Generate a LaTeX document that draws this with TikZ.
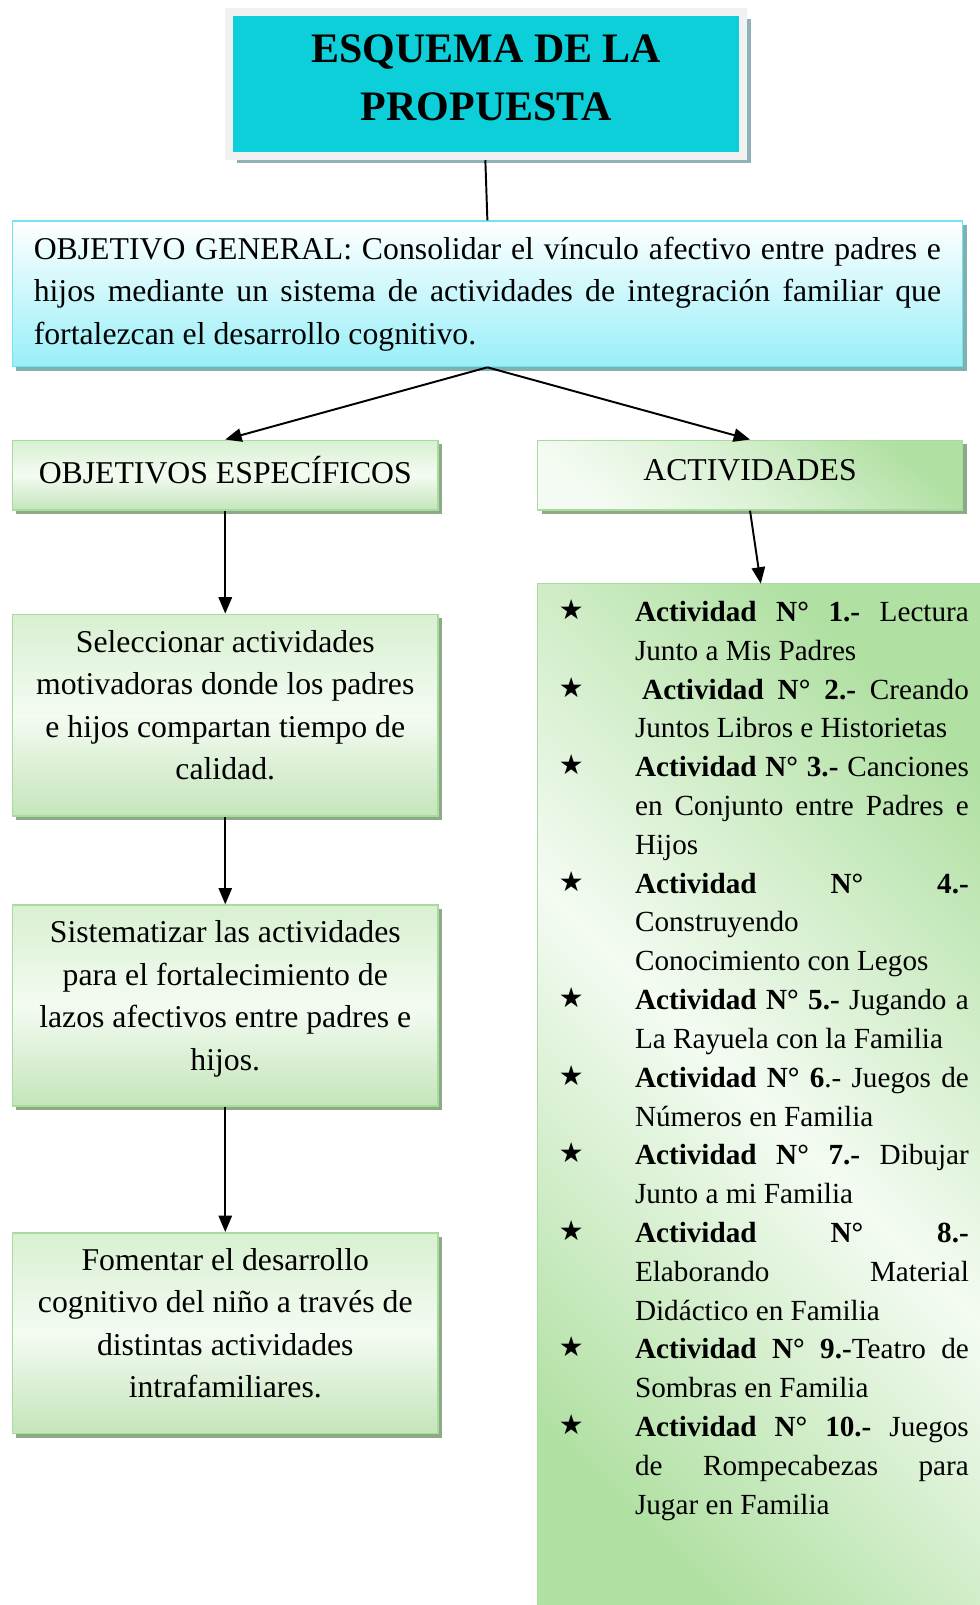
\documentclass[tikz,border=0pt]{standalone}
\usepackage{fontspec}
\setmainfont{Liberation Serif}
\newfontfamily\starfont{DejaVu Sans}
\usepackage{xcolor}
\usetikzlibrary{arrows.meta,positioning,shadows}

\definecolor{titlecyan}{RGB}{13,207,218}
\definecolor{titleframe}{RGB}{241,241,241}
\definecolor{titleshadow}{RGB}{143,178,184}
\definecolor{goalline}{RGB}{112,228,239}
\definecolor{goalfill}{RGB}{152,239,248}
\definecolor{goalshadow}{RGB}{128,176,178}
\definecolor{leafline}{RGB}{168,220,158}
\definecolor{leaftop}{RGB}{216,240,209}
\definecolor{leafmid}{RGB}{244,251,242}
\definecolor{leafbot}{RGB}{196,229,186}
\definecolor{leafdark}{RGB}{176,224,162}
\definecolor{leafshadow}{RGB}{141,170,134}

\tikzset{
  boxfont/.style={font=\fontsize{31}{41.5}\selectfont},
  listfont/.style={font=\fontsize{28.5}{37.9}\selectfont},
  titlebox/.style={draw=titleframe, line width=8pt, fill=titlecyan,
    minimum width=502pt, minimum height=141pt, align=center, text depth=12pt,
    font=\fontsize{41}{57}\selectfont\bfseries,
    drop shadow={shadow xshift=7pt, shadow yshift=-7pt, fill=titleshadow, opacity=1}},
  goalbox/.style={boxfont, draw=goalline, line width=1.5pt,
    top color=white, bottom color=goalfill,
    text width=886pt, inner xsep=21pt, minimum height=142pt, align=justify,
    execute at begin node={\tolerance=10000\hyphenpenalty=10000},
    drop shadow={shadow xshift=4pt, shadow yshift=-4pt, fill=goalshadow, opacity=1}},
  aimbox/.style={boxfont, draw=leafline, line width=1.5pt,
    top color=leaftop, bottom color=leafbot, middle color=leafmid,
    minimum width=416pt, align=center,
    drop shadow={shadow xshift=4pt, shadow yshift=-4pt, fill=leafshadow, opacity=1}},
  aimhigh/.style={aimbox, minimum height=68pt, text depth=10pt},
  aimtall/.style={aimbox, text depth=20pt},
  actbox/.style={aimhigh, top color=leafdark, bottom color=leafmid,
    middle color=leafmid!60!leafdark, shading angle=-40},
  listbox/.style={draw=leafline, line width=1.5pt,
    top color=leafdark, bottom color=leafdark, middle color=leafmid,
    shading angle=-45, minimum width=470pt, minimum height=1050pt},
  itemtext/.style={listfont, anchor=base west, text width=326pt, align=justify,
    inner sep=0pt, execute at begin node={\tolerance=10000\hyphenpenalty=10000}},
  arrowlink/.style={-{Triangle[length=16pt,width=13pt]}, line width=1.9pt}
}

\begin{document}
\begin{tikzpicture}[x=1pt,y=-1pt]
    \useasboundingbox (0,0) rectangle (957,1567.5);
    \clip (0,0) rectangle (957,1567.5);
    % title and general objective
    \node[titlebox] (title) at (475,82) {ESQUEMA DE LA\\PROPUESTA};
    \node[goalbox] (goal) at (476,287) {OBJETIVO GENERAL: Consolidar el vínculo afectivo entre padres e\linebreak hijos mediante un sistema de actividades de integración familiar que\linebreak fortalezcan el desarrollo cognitivo.};
    % left column: specific objectives
    \node[aimhigh] (aimhead) at (220,464) {OBJETIVOS ESPECÍFICOS};
    \node[aimtall, minimum height=197pt] (aim1) at (220,698.5) {Seleccionar actividades\\motivadoras donde los padres\\e hijos compartan tiempo de\\calidad.};
    \node[aimtall, minimum height=196pt] (aim2) at (220,982) {Sistematizar las actividades\\para el fortalecimiento de\\lazos afectivos entre padres e\\hijos.};
    \node[aimtall, minimum height=196pt] (aim3) at (220,1302) {Fomentar el desarrollo\\cognitivo del niño a través de\\distintas actividades\\intrafamiliares.};
    % right column: activities
    \node[actbox, minimum width=415pt] (acthead) at (732.5,464) {ACTIVIDADES};
    \node[listbox] (actlist) at (760,1095) {};
    \coordinate (actin) at (743,570);
    \foreach \k/\act in {
        0/{\textbf{Actividad N° 1.-} Lectura\linebreak Junto a Mis Padres},
        2/{\hspace*{7pt}\textbf{Actividad N° 2.-} Creando\linebreak Juntos Libros e Historietas},
        4/{\textbf{Actividad N° 3.-} Canciones\linebreak en Conjunto entre Padres e\linebreak Hijos},
        7/{\textbf{Actividad N° 4.-}\linebreak Construyendo\linebreak Conocimiento con Legos},
        10/{\textbf{Actividad N° 5.-} Jugando a\linebreak La Rayuela con la Familia},
        12/{\textbf{Actividad N° 6}.- Juegos de\linebreak Números en Familia},
        14/{\textbf{Actividad N° 7.-} Dibujar\linebreak Junto a mi Familia},
        16/{\textbf{Actividad N° 8.-}\linebreak Elaborando Material\linebreak Didáctico en Familia},
        19/{\textbf{Actividad N° 9.-}Teatro de\linebreak Sombras en Familia},
        21/{\textbf{Actividad N° 10.-} Juegos\linebreak de Rompecabezas para\linebreak Jugar en Familia}} {
      \node[anchor=base, inner sep=0pt, font=\starfont\fontsize{27}{27}\selectfont] (star\k) at (558,605+37.9*\k) {★};
      \node[itemtext] (item\k) at (620,607+37.9*\k) {\act};
    }
    % connectors
    \draw[line width=1.9pt] ([xshift=-1pt]title.south) -- (goal.north);
    \draw[arrowlink] (goal.south) -- (aimhead.north);
    \draw[arrowlink] (goal.south) -- (acthead.north);
    \draw[arrowlink] (aimhead.south) -- (aim1.north);
    \draw[arrowlink] (aim1.south) -- (aim2.north);
    \draw[arrowlink] (aim2.south) -- (aim3.north);
    \draw[arrowlink] (acthead.south) -- (actin);
\end{tikzpicture}
\end{document}
